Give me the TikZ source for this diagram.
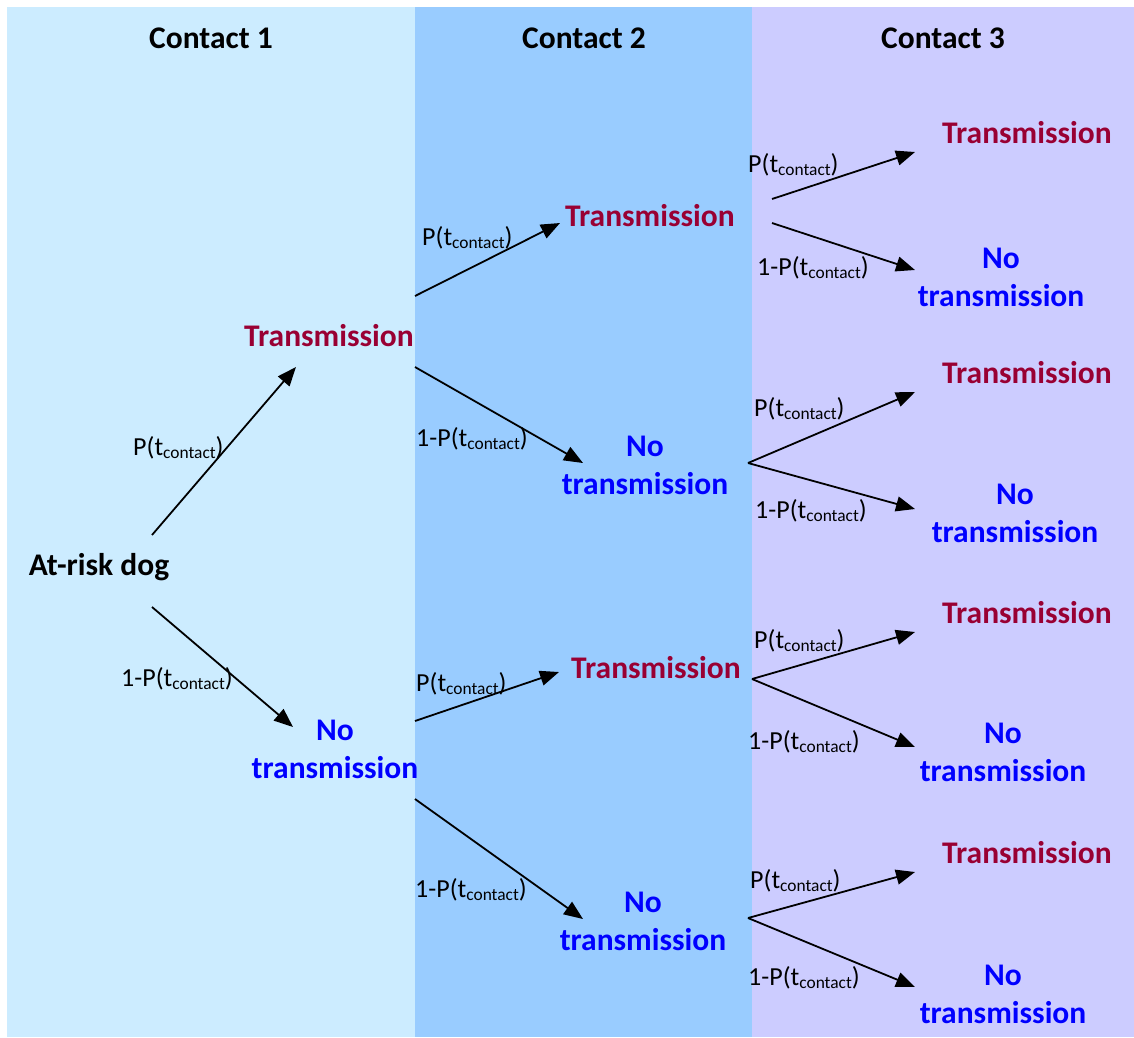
\documentclass[tikz,border=0pt]{standalone}
\usepackage{fontspec}
\setmainfont{Carlito}
\usetikzlibrary{arrows.meta}
\definecolor{colA}{HTML}{CCECFF}
\definecolor{colB}{HTML}{99CCFF}
\definecolor{colC}{HTML}{CCCCFF}
\definecolor{transcol}{HTML}{990033}
\definecolor{notranscol}{HTML}{0000FF}
\newcommand{\ptc}{P(t\raisebox{-3pt}{\fontsize{17.4}{20}\selectfont contact})}
\tikzset{
  bigfont/.style={font=\fontsize{31.5}{38}\selectfont\bfseries},
  hdr/.style={bigfont, inner sep=0, anchor=base},
  yesnode/.style={bigfont, text=transcol, inner sep=0, anchor=base},
  nonode/.style={bigfont, text=notranscol, align=center, inner sep=0},
  prob/.style={font=\fontsize{26}{30}\selectfont, anchor=base west, inner sep=0},
  br/.style={line width=1.8pt, -{Triangle[length=19pt,width=15pt]}},
}
\begin{document}
\begin{tikzpicture}[x=1pt,y=-1pt]
\fill[white] (0,0) rectangle (1134,1037);
\useasboundingbox (0,0) rectangle (1134,1037);
\fill[colA] (7,7) rectangle (415,1037);
\fill[colB] (415,7) rectangle (752,1037);
\fill[colC] (752,7) rectangle (1134,1037);

% headers
\node[hdr] (h1) at (211,48) {Contact 1};
\node[hdr] (h2) at (584,48) {Contact 2};
\node[hdr] (h3) at (943,48) {Contact 3};

% nodes
\node[hdr] (root) at (99,575) {At-risk dog};
\node[yesnode] (t1) at (329,346) {Transmission};
\node[nonode] (n1) at (335,749) {No\\transmission};
\node[yesnode] (t21) at (650,226) {Transmission};
\node[nonode] (n21) at (645,465) {No\\transmission};
\node[yesnode] (t22) at (656,678) {Transmission};
\node[nonode] (n22) at (643,921) {No\\transmission};
\node[yesnode] (t31) at (1027,143) {Transmission};
\node[nonode] (n31) at (1001,277) {No\\transmission};
\node[yesnode] (t32) at (1027,383) {Transmission};
\node[nonode] (n32) at (1015,513) {No\\transmission};
\node[yesnode] (t33) at (1027,623) {Transmission};
\node[nonode] (n33) at (1003,752) {No\\transmission};
\node[yesnode] (t34) at (1027,863) {Transmission};
\node[nonode] (n34) at (1003,994) {No\\transmission};

% connector end points
\coordinate (a0s) at (152,535); \coordinate (a0e) at (296,367);
\coordinate (a1s) at (152,607); \coordinate (a1e) at (293,727);
\coordinate (b0s) at (415,296); \coordinate (b0e) at (560,223);
\coordinate (b1s) at (415,367); \coordinate (b1e) at (583,463);
\coordinate (b2s) at (415,721); \coordinate (b2e) at (559,672);
\coordinate (b3s) at (415,799); \coordinate (b3e) at (583,919);
\coordinate (c0s) at (772,199); \coordinate (c0e) at (915,152);
\coordinate (c1s) at (772,223); \coordinate (c1e) at (915,270);
\coordinate (c2s) at (748,463); \coordinate (c2e) at (915,392); \coordinate (c3e) at (915,509);
\coordinate (c4s) at (752,679); \coordinate (c4e) at (915,632); \coordinate (c5e) at (915,747);
\coordinate (c6s) at (748,918); \coordinate (c6e) at (915,872); \coordinate (c7e) at (915,987);

\draw[br] (a0s) -- (a0e);
\draw[br] (a1s) -- (a1e);
\draw[br] (b0s) -- (b0e);
\draw[br] (b1s) -- (b1e);
\draw[br] (b2s) -- (b2e);
\draw[br] (b3s) -- (b3e);
\draw[br] (c0s) -- (c0e);
\draw[br] (c1s) -- (c1e);
\draw[br] (c2s) -- (c2e);
\draw[br] (c2s) -- (c3e);
\draw[br] (c4s) -- (c4e);
\draw[br] (c4s) -- (c5e);
\draw[br] (c6s) -- (c6e);
\draw[br] (c6s) -- (c7e);

% probability labels
\node[prob] (p0) at (133,455) {\ptc};
\node[prob] (p1) at (121,686) {1-\ptc};
\node[prob] (p2) at (422,245) {\ptc};
\node[prob] (p3) at (416,446) {1-\ptc};
\node[prob] (p4) at (416,691) {\ptc};
\node[prob] (p5) at (415,897) {1-\ptc};
\node[prob] (p6) at (748,172) {\ptc};
\node[prob] (p7) at (757,275) {1-\ptc};
\node[prob] (p8) at (754,416) {\ptc};
\node[prob] (p9) at (755,518) {1-\ptc};
\node[prob] (p10) at (754,648) {\ptc};
\node[prob] (p11) at (748,749) {1-\ptc};
\node[prob] (p12) at (750,888) {\ptc};
\node[prob] (p13) at (748,985) {1-\ptc};
\end{tikzpicture}
\end{document}
